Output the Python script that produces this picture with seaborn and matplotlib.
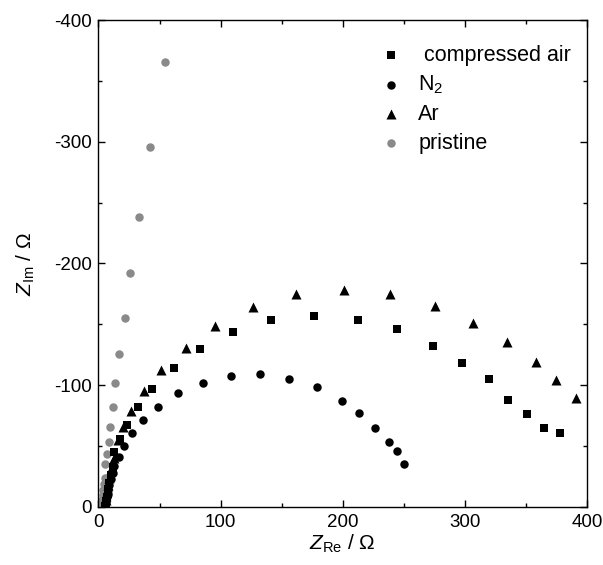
import matplotlib
matplotlib.use("Agg")
import matplotlib.pyplot as plt
import seaborn as sns
import pandas as pd
from matplotlib.ticker import MultipleLocator

sns.set_theme(style="ticks")
plt.rcParams['font.family'] = ['Liberation Sans', 'DejaVu Sans']
plt.rcParams['mathtext.fontset'] = 'custom'
plt.rcParams['mathtext.rm'] = 'Liberation Sans'
plt.rcParams['mathtext.it'] = 'Liberation Sans:italic'
plt.rcParams['axes.unicode_minus'] = False
plt.rcParams['text.color'] = 'black'
plt.rcParams['axes.labelcolor'] = 'black'

# ---- data (Z_Re, Z_Im in ohm) ----
air_re = [5.5, 6.0, 6.5, 7.0, 7.5, 8.0, 9.0, 10.0, 11.5, 13.0, 17.7, 23.2, 32.2, 44.2, 61.8, 83.4, 110.2,
          141.5, 176.6, 212.1, 244.1, 273.7, 297.7, 319.7, 335.5, 351.1, 364.5, 378.0]
air_im = [-1, -3, -5, -8, -11, -15, -20, -26, -33, -45.2, -55.6, -67.4, -81.9, -97.2, -113.9, -129.8, -143.5,
          -153.2, -157.2, -153.8, -146.2, -132.5, -118.3, -105.1, -87.6, -76.4, -64.6, -60.8]

n2_re = [5.0, 5.5, 6.0, 6.5, 7.0, 7.5, 8.0, 9.0, 10.0, 11.5, 13.0, 16.6, 20.7, 27.5, 36.6, 49.1, 65.3, 85.6,
         108.3, 132.4, 155.6, 178.6, 199.7, 213.4, 226.0, 237.5, 244.4, 249.8]
n2_im = [-1, -2, -4, -6, -8, -11, -14, -18, -23, -28, -34, -41.3, -50.1, -60.5, -71.2, -82.4, -93.4, -102.1,
         -107.9, -109.0, -105.1, -98.3, -87.3, -77.0, -64.9, -53.4, -45.7, -35.3]

ar_re = [5.0, 5.5, 6.0, 6.5, 7.0, 8.0, 9.0, 10.5, 12.5, 16.0, 19.9, 26.7, 37.1, 51.3, 71.6, 95.7, 126.3,
         161.4, 201.1, 238.6, 275.3, 306.5, 334.5, 358.3, 374.4, 390.6]
ar_im = [-1, -3, -6, -9, -13, -18, -24, -31, -40, -55, -66, -79.1, -95.3, -112.5, -130.9, -148.9, -164.0,
         -174.7, -178.0, -175.0, -165.4, -150.9, -135.3, -119.1, -104.3, -89.8]

pr_re = [2.5, 3.0, 3.5, 4.0, 4.5, 5.0, 5.6, 7.0, 8.4, 9.7, 11.6, 13.8, 17.1, 21.5, 26.1, 33.3, 41.8, 54.6]
pr_im = [-3, -6, -10, -14, -19, -24, -35, -43.3, -53.4, -66, -81.9, -101.6, -125.7, -155.5, -192.5,
         -238.4, -295.4, -365.8]

labels = [' compressed air', 'N$_2$', 'Ar', 'pristine']

fig = plt.figure(figsize=(6.03, 5.65), dpi=100)
ax = fig.add_axes([0.1633, 0.1027, 0.8102, 0.8619])

# pristine drawn first (underneath)
sns.scatterplot(x=pr_re, y=pr_im, ax=ax, marker='o', color='#8a8a8a', s=37, linewidth=0,
                label=labels[3], zorder=2)
sns.scatterplot(x=air_re, y=air_im, ax=ax, marker='s', color='black', s=28, linewidth=0,
                label=labels[0], zorder=3)
sns.scatterplot(x=n2_re, y=n2_im, ax=ax, marker='o', color='black', s=37, linewidth=0,
                label=labels[1], zorder=3)
sns.scatterplot(x=ar_re, y=ar_im, ax=ax, marker='^', color='black', s=52, linewidth=0,
                label=labels[2], zorder=3)

ax.set_xlim(0, 400)
ax.set_ylim(0, -400)
ax.xaxis.set_major_locator(MultipleLocator(100))
ax.xaxis.set_minor_locator(MultipleLocator(50))
ax.yaxis.set_major_locator(MultipleLocator(100))
ax.yaxis.set_minor_locator(MultipleLocator(50))
ax.tick_params(which='both', direction='in', top=True, right=True, labelsize=13.5,
               color='black', labelcolor='black', width=1.0)
ax.tick_params(which='major', length=5, pad=5)
ax.tick_params(which='minor', length=3)
for sp in ax.spines.values():
    sp.set_color('black')
    sp.set_linewidth(1.0)
ax.grid(False)

ax.set_xlabel(r'$Z_{\mathrm{Re}}$ / Ω', fontsize=15, labelpad=1, color='black')
ax.set_ylabel(r'$Z_{\mathrm{Im}}$ / Ω', fontsize=15, labelpad=12, color='black')

h, l = ax.get_legend_handles_labels()
order = [1, 2, 3, 0]
leg = ax.legend([h[i] for i in order], [l[i] for i in order], loc='upper right',
                frameon=False, fontsize=15.5, handletextpad=0.75, labelspacing=0.36,
                handlelength=1.0, borderaxespad=0.0, bbox_to_anchor=(0.985, 0.967))
for t in leg.get_texts():
    t.set_color('black')

fig.savefig('out.png', dpi=100)
